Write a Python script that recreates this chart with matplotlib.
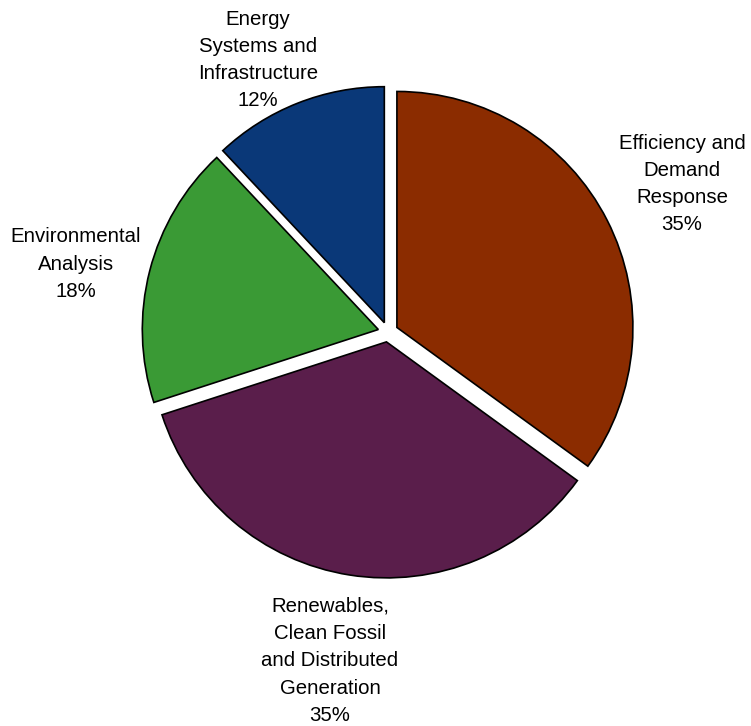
import matplotlib
matplotlib.use("Agg")
import matplotlib.pyplot as plt

categories = ["Efficiency and\nDemand\nResponse",
              "Renewables,\nClean Fossil\nand Distributed\nGeneration",
              "Environmental\nAnalysis",
              "Energy\nSystems and\nInfrastructure"]
values = [35, 35, 18, 12]
colors = ["#8B2C00", "#5A1E4B", "#3A9A35", "#0A3878"]

# layout (pixel positions of label centres, from top-left)
label_pos = [(682, 184), (330, 661), (76, 264), (258, 60)]

W, H = 751, 726
fig = plt.figure(figsize=(W / 100, H / 100), dpi=100)
ax = fig.add_axes([0, 0, 1, 1])

cx, cy, R = 388, H - 332, 236
ax.pie(values, colors=colors, startangle=90, counterclock=False,
       explode=[10] * len(values), center=(cx, cy), radius=R,
       wedgeprops=dict(edgecolor="black", linewidth=1.2))
ax.set_xlim(0, W)
ax.set_ylim(0, H)
ax.set_aspect("auto")
ax.axis("off")

for name, v, (x, y) in zip(categories, values, label_pos):
    ax.text(x, H - y, f"{name}\n{v:.0f}%", ha="center", va="center",
            fontsize=14.7, family="Liberation Sans", linespacing=1.55,
            color="black")

fig.savefig("out.png", dpi=100)
